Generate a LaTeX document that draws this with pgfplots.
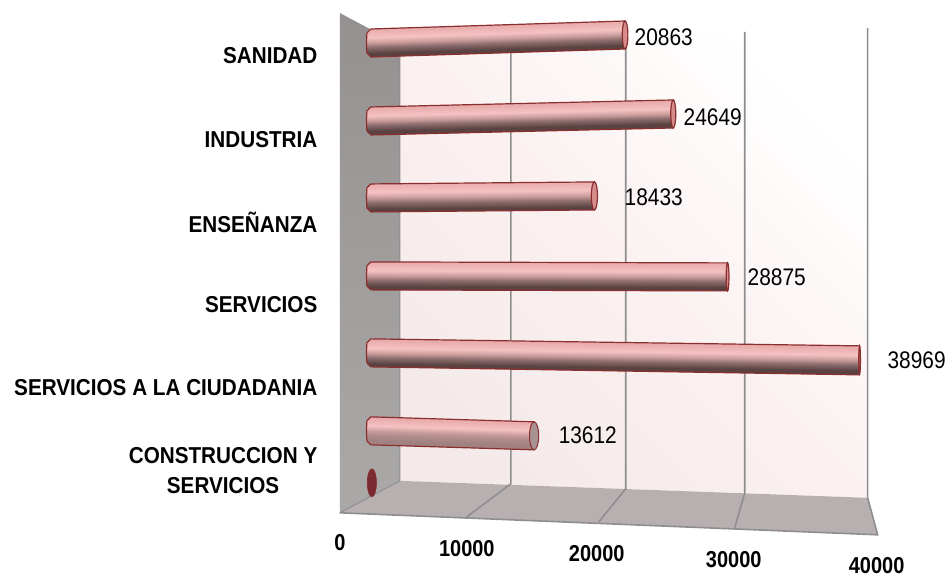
\documentclass[border=0pt]{standalone}
\usepackage{fontspec}
\setmainfont{Liberation Sans}
\newfontfamily\narrowfont[FakeStretch=0.87]{Liberation Sans}
\newfontfamily\catfont[FakeStretch=0.9]{Liberation Sans}
\usepackage{pgfplots}
\pgfplotsset{compat=1.18}

\definecolor{edge}{HTML}{8B2E2E}
\definecolor{gridc}{HTML}{8E8E8E}
\definecolor{wall1}{HTML}{F4EAEA}
\definecolor{wall2}{HTML}{FBF1F1}
\definecolor{side1}{HTML}{959191}
\definecolor{side2}{HTML}{ABA8A8}
\definecolor{floorc}{HTML}{B8B0B0}
\definecolor{capc}{HTML}{A89292}
\definecolor{emptyc}{HTML}{7A2A30}
\definecolor{c1}{HTML}{5A4242}
\definecolor{c2}{HTML}{8F6F6F}
\definecolor{c3}{HTML}{C89A9A}
\definecolor{c4}{HTML}{F5C2C2}
\definecolor{c5}{HTML}{E8ABAB}
\definecolor{d2}{HTML}{B08C8C}
\definecolor{d1}{HTML}{A08080}
% stops differ because the tilted bars fill less of their shading box
\pgfdeclareverticalshading{cyltilt}{100bp}{
  color(0bp)=(c1); color(37.8bp)=(c1); color(45.2bp)=(c2); color(50bp)=(c3);
  color(56.4bp)=(c4); color(66bp)=(c5); color(100bp)=(c5)}
\pgfdeclareverticalshading{cylflat}{100bp}{
  color(0bp)=(c1); color(32.5bp)=(c1); color(43.1bp)=(c2); color(50bp)=(c3);
  color(59.2bp)=(c4); color(73bp)=(c5); color(100bp)=(c5)}
\pgfdeclareverticalshading{cyllight}{100bp}{
  color(0bp)=(d1); color(36.3bp)=(d1); color(44.6bp)=(d2); color(50bp)=(c3);
  color(57.2bp)=(c4); color(68bp)=(c5); color(100bp)=(c5)}

\pgfplotsset{
  cylinder bar/.style={draw=edge, line width=1.2pt, shade, shading=#1,
    x filter/.expression={368+0.0120*x+1.6e-8*x*x}},
  cylinder cap/.style={only marks, mark=*, mark size=14pt,
    mark options={xscale=#1, draw=edge, line width=1.2pt, fill=black!35!red!45!white},
    x filter/.expression={368+0.0120*x+1.6e-8*x*x}},
}
\tikzset{
  catlabel/.style={anchor=east, align=center, font=\catfont\bfseries\fontsize{23}{30}\selectfont},
  ticklabel/.style={font=\narrowfont\bfseries\fontsize{23}{26}\selectfont},
  vallabel/.style={font=\narrowfont\fontsize{24}{28}\selectfont},
}

\begin{document}
\begin{tikzpicture}
\begin{axis}[
  scale only axis, width=949pt, height=576pt,
  xmin=0, xmax=949, ymin=0, ymax=576, y dir=reverse,
  hide axis, clip=false,
]
% hide axis draws no frame, so hold the page size open
\path (axis cs:0,0) (axis cs:949,576);
% back wall, side wall and floor
\addplot[draw=none, bottom color=wall1, top color=white, middle color=wall2, shading angle=-45] coordinates {(400,45) (868,28) (868,498) (400,481)} --cycle;
\addplot[draw=none, top color=side1, bottom color=side2] coordinates {(340,13) (400,45) (400,481) (340,513)} --cycle;
\addplot[draw=none, fill=floorc] coordinates {(400,481) (868,498) (878,535) (340,513)} --cycle;
% grid lines
\addplot[gridc, line width=1.6pt] coordinates {(511,40) (511,484) (467,517)};
\addplot[gridc, line width=1.6pt] coordinates {(626,36) (626,489) (599,522)};
\addplot[gridc, line width=1.6pt] coordinates {(745,32) (745,493) (735,528)};
\addplot[gridc, line width=1.6pt] coordinates {(868,28) (868,498) (878,535) (340,513)};
\addplot[gridc, line width=1pt] coordinates {(400,45) (400,481) (340,513)};
% bars, top to bottom
\addplot[cylinder bar=cyltilt, shading angle=1.8] coordinates {(250,29) (-80,33) (-120,43) (-80,53) (250,57) (20863,49) (20863,21)} --cycle;
\addplot[cylinder cap=0.2] coordinates {(20863,35)};
\addplot[cylinder bar=cyltilt, shading angle=1.3] coordinates {(250,107) (-80,111) (-120,121) (-80,131) (250,135) (24649,128) (24649,100)} --cycle;
\addplot[cylinder cap=0.18] coordinates {(24649,114)};
\addplot[cylinder bar=cylflat, shading angle=0.5] coordinates {(250,184) (-80,188) (-120,198) (-80,208) (250,212) (18433,210) (18433,182)} --cycle;
\addplot[cylinder cap=0.22] coordinates {(18433,196)};
\addplot[cylinder bar=cylflat, shading angle=-0.2] coordinates {(250,262) (-80,266) (-120,276) (-80,286) (250,290) (28875,291) (28875,263)} --cycle;
\addplot[cylinder cap=0.1] coordinates {(28875,277)};
\addplot[cylinder bar=cyltilt, shading angle=-0.8] coordinates {(250,339) (-80,343) (-120,353) (-80,363) (250,367) (38969,375) (38969,346)} --cycle;
\addplot[cylinder cap=0.06] coordinates {(38969,360)};
\addplot[cylinder bar=cyllight, shading angle=-1.7] coordinates {(250,417) (-80,421) (-120,431) (-80,441) (250,445) (13612,450) (13612,422)} --cycle;
\addplot[only marks, mark=*, mark size=14pt, mark options={xscale=0.33, draw=edge, line width=1pt, fill=capc}, x filter/.expression={368+0.0120*x+1.6e-8*x*x}] coordinates {(13612,436)};
% the empty seventh row
\addplot[only marks, mark=*, mark size=14pt, mark options={xscale=0.33, draw=edge, line width=0.6pt, fill=emptyc}] coordinates {(372,483)};
% category names
\node[catlabel] at (axis cs:321,56) {SANIDAD};
\node[catlabel] at (axis cs:321,140) {INDUSTRIA};
\node[catlabel] at (axis cs:321,222) {ENSEÑANZA};
\node[catlabel] at (axis cs:321,305) {SERVICIOS};
\node[catlabel] at (axis cs:321,388) {SERVICIOS A LA CIUDADANIA};
\node[catlabel] at (axis cs:321,471) {CONSTRUCCION Y\\SERVICIOS};
% value labels
\node[vallabel] at (axis cs:664,37) {20863};
\node[vallabel] at (axis cs:713,117) {24649};
\node[vallabel] at (axis cs:654,197) {18433};
\node[vallabel] at (axis cs:777,277) {28875};
\node[vallabel] at (axis cs:917,360) {38969};
\node[vallabel] at (axis cs:588,435) {13612};
% tick labels
\node[ticklabel] at (axis cs:340,543) {0};
\node[ticklabel] at (axis cs:467,549) {10000};
\node[ticklabel] at (axis cs:597,554) {20000};
\node[ticklabel] at (axis cs:734,560) {30000};
\node[ticklabel] at (axis cs:877,566) {40000};
\end{axis}
\end{tikzpicture}
\end{document}
